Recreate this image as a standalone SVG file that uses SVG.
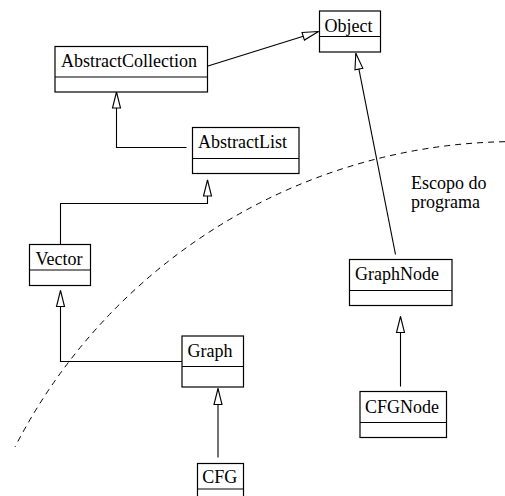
<svg xmlns="http://www.w3.org/2000/svg" width="505" height="496" viewBox="0 0 505 496" font-family="'Liberation Serif', 'DejaVu Serif', serif">
<style>
.box rect{fill:#fff;stroke:#000;stroke-width:1.2}
.box line{stroke:#000;stroke-width:1.2}
text{font-family:'Liberation Serif','DejaVu Serif',serif;font-size:18px;fill:#000}
.conn path{fill:none;stroke:#000;stroke-width:1.1;marker-end:url(#tri)}
.scope{fill:none;stroke:#000;stroke-width:1;stroke-dasharray:6 5}
</style>
<defs>
<marker id="tri" markerUnits="userSpaceOnUse" viewBox="0 0 20 12" markerWidth="20" markerHeight="12" refX="17" refY="6" orient="auto">
<path d="M1,2 L17,6 L1,10 Z" fill="#fff" stroke="#000" stroke-width="1.1"/>
</marker>
</defs>
<rect width="505" height="496" fill="#fff"/>
<path class="scope" d="M505,141.7 A562,562 0 0 0 15,447"/>
<g class="conn">
<path d="M208,66 L318.5,31.5"/>
<path d="M186.5,147.5 H116.5 V92"/>
<path d="M60.5,244.5 V203.5 H207.5 V180"/>
<path d="M182,361.5 H60.5 V290.5"/>
<path d="M218,457.5 V388.5"/>
<path d="M400.5,386.5 V316.5"/>
<path d="M395.5,254.5 L355.8,53.3"/>
</g>
<g id="Object" class="box"><rect x="319.5" y="11" width="61" height="41"/><line x1="319.5" y1="36.5" x2="380.5" y2="36.5"/><text x="324.5" y="31.7">Object</text></g>
<g id="AbstractCollection" class="box"><rect x="55" y="46.5" width="152.5" height="45.5"/><line x1="55" y1="77" x2="207.5" y2="77"/><text x="61" y="66.7">AbstractCollection</text></g>
<g id="AbstractList" class="box"><rect x="192.5" y="127.5" width="106.5" height="46"/><line x1="192.5" y1="158.5" x2="299" y2="158.5"/><text x="198" y="147.7">AbstractList</text></g>
<g id="Vector" class="box"><rect x="29.5" y="244.5" width="61" height="41"/><line x1="29.5" y1="270" x2="90.5" y2="270"/><text x="35.5" y="264.5">Vector</text></g>
<g id="GraphNode" class="box"><rect x="349.5" y="259.5" width="102.5" height="46"/><line x1="349.5" y1="290.5" x2="452" y2="290.5"/><text x="355" y="280">GraphNode</text></g>
<g id="Graph" class="box"><rect x="182" y="336" width="61.5" height="51"/><line x1="182" y1="366.5" x2="243.5" y2="366.5"/><text x="187.5" y="356.7">Graph</text></g>
<g id="CFGNode" class="box"><rect x="360" y="391.5" width="86.5" height="46"/><line x1="360" y1="422.5" x2="446.5" y2="422.5"/><text x="365" y="412.7">CFGNode</text></g>
<g id="CFG" class="box"><rect x="197.5" y="463.5" width="46" height="40"/><line x1="197.5" y1="489" x2="243.5" y2="489"/><text x="202.3" y="483.3">CFG</text></g>
<text x="411" y="189">Escopo do</text>
<text x="411" y="208">programa</text>
</svg>
